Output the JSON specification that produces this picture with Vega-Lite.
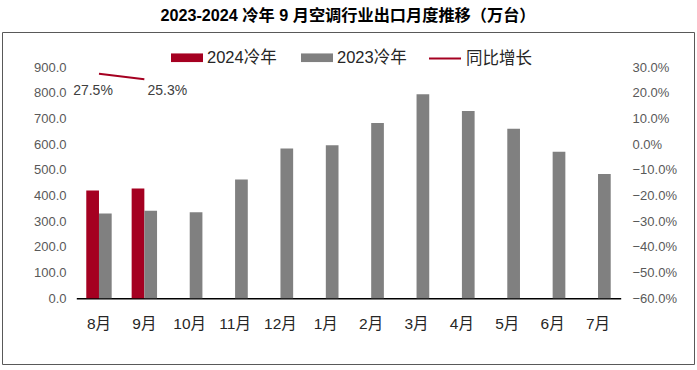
{
  "$schema": "https://vega.github.io/schema/vega-lite/v6.json",
  "width": 692,
  "height": 332,
  "autosize": {"type": "none"},
  "padding": {"left": 2, "top": 32, "right": 3, "bottom": 6},
  "background": "white",
  "title": {
    "text": "2023-2024 冷年 9 月空调行业出口月度推移（万台）",
    "font": "Liberation Sans, Noto Sans CJK SC",
    "fontSize": 16.2,
    "fontWeight": "bold",
    "color": "#000000",
    "anchor": "middle",
    "frame": "group",
    "offset": 8
  },
  "config": {
    "view": {"stroke": "#595959", "strokeWidth": 1},
    "axis": {"grid": false, "ticks": false, "labelFont": "Liberation Sans, Noto Sans CJK SC", "title": null},
    "legend": {"labelFont": "Liberation Sans, Noto Sans CJK SC", "labelFontSize": 16.5, "labelColor": "#262626", "direction": "horizontal", "orient": "none", "title": null, "columnPadding": 24, "labelOffset": 4}
  },
  "datasets": {
    "bars": [
      {"month": "8月", "series": "2024冷年", "value": 420},
      {"month": "9月", "series": "2024冷年", "value": 428},
      {"month": "8月", "series": "2023冷年", "value": 330},
      {"month": "9月", "series": "2023冷年", "value": 341},
      {"month": "10月", "series": "2023冷年", "value": 335},
      {"month": "11月", "series": "2023冷年", "value": 463},
      {"month": "12月", "series": "2023冷年", "value": 584},
      {"month": "1月", "series": "2023冷年", "value": 596},
      {"month": "2月", "series": "2023冷年", "value": 683},
      {"month": "3月", "series": "2023冷年", "value": 795},
      {"month": "4月", "series": "2023冷年", "value": 730},
      {"month": "5月", "series": "2023冷年", "value": 661},
      {"month": "6月", "series": "2023冷年", "value": 571},
      {"month": "7月", "series": "2023冷年", "value": 484}
    ],
    "growth": [
      {"month": "8月", "yoy": 0.275},
      {"month": "9月", "yoy": 0.253}
    ]
  },
  "layer": [
    {
      "data": {"name": "bars"},
      "mark": {"type": "bar"},
      "encoding": {
        "x": {
          "field": "month",
          "type": "nominal",
          "sort": ["8月", "9月", "10月", "11月", "12月", "1月", "2月", "3月", "4月", "5月", "6月", "7月"],
          "scale": {"range": [74.3, 618.7], "paddingInner": 0.44, "paddingOuter": 0.22},
          "axis": {"orient": "bottom", "offset": -65.7, "labelPadding": 18, "labelFontSize": 15.5, "labelColor": "#262626", "domainColor": "#000000", "domainWidth": 1.5, "labelAngle": 0}
        },
        "xOffset": {
          "field": "series",
          "type": "nominal",
          "sort": ["2024冷年", "2023冷年"],
          "scale": {"domain": ["2024冷年", "2023冷年"], "paddingInner": 0, "paddingOuter": 0}
        },
        "y": {
          "field": "value",
          "type": "quantitative",
          "scale": {"domain": [0, 900], "range": [266.3, 35.3], "nice": false, "zero": true},
          "axis": {"orient": "left", "offset": -66, "labelPadding": 2, "domain": false, "values": [0, 100, 200, 300, 400, 500, 600, 700, 800, 900], "format": ".1f", "labelFontSize": 13, "labelColor": "#595959"}
        },
        "color": {
          "field": "series",
          "type": "nominal",
          "scale": {"domain": ["2024冷年", "2023冷年"], "range": ["#A50021", "#808080"]},
          "legend": {"legendX": 169, "legendY": 9.5, "symbolType": "M-1,-0.27H1V0.27H-1Z", "symbolSize": 1024, "symbolStrokeWidth": 0, "symbolOpacity": 1}
        }
      }
    },
    {
      "data": {"name": "growth"},
      "encoding": {
        "x": {"field": "month", "type": "nominal", "sort": ["8月", "9月", "10月", "11月", "12月", "1月", "2月", "3月", "4月", "5月", "6月", "7月"]},
        "y": {
          "field": "yoy",
          "type": "quantitative",
          "scale": {"domain": [-0.6, 0.3], "range": [266.3, 35.3], "nice": false, "zero": false},
          "axis": {"orient": "right", "offset": -64, "labelPadding": 2, "domain": false, "values": [-0.6, -0.5, -0.4, -0.3, -0.2, -0.1, 0, 0.1, 0.2, 0.3], "format": ".1%", "labelFontSize": 13, "labelColor": "#595959"}
        }
      },
      "layer": [
        {
          "mark": {"type": "line", "strokeWidth": 2},
          "encoding": {
            "stroke": {
              "datum": "同比增长",
              "scale": {"domain": ["同比增长"], "range": ["#A50021"]},
              "legend": {"legendX": 426, "legendY": 9.5, "symbolType": "stroke", "symbolSize": 1024, "symbolStrokeWidth": 2}
            }
          }
        },
        {
          "transform": [{"filter": "datum.month === '8月'"}],
          "mark": {"type": "text", "dx": -6, "dy": 17, "fontSize": 14, "font": "Liberation Sans", "color": "#404040"},
          "encoding": {"text": {"field": "yoy", "type": "quantitative", "format": ".1%"}}
        },
        {
          "transform": [{"filter": "datum.month === '9月'"}],
          "mark": {"type": "text", "dx": 23, "dy": 12, "fontSize": 14, "font": "Liberation Sans", "color": "#404040"},
          "encoding": {"text": {"field": "yoy", "type": "quantitative", "format": ".1%"}}
        }
      ]
    }
  ],
  "resolve": {"scale": {"y": "independent"}}
}
